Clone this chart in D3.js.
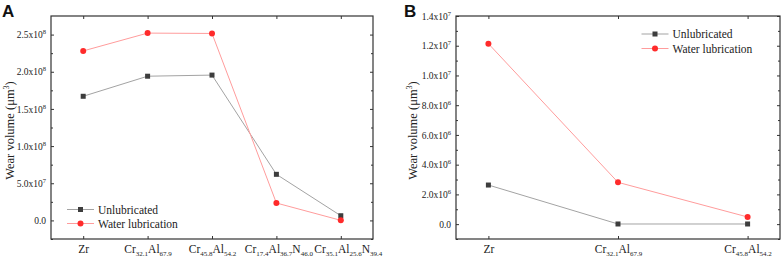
<!DOCTYPE html>
<html>
<head>
<meta charset="utf-8">
<script src="https://cdn.jsdelivr.net/npm/d3@7"></script>
<style>
  body { margin: 0; background: #fff; }
  svg { display: block; font-family: "Liberation Serif", "Times New Roman", serif; }
</style>
</head>
<body>
<div id="chart-area"></div>
<script>
// data
const catsA = ["Zr", "Cr32.1Al67.9", "Cr45.8Al54.2", "Cr17.4Al36.7N46.0", "Cr35.1Al25.6N39.4"]
const unlubA = [1.67e8, 1.94e8, 1.955e8, 6.2e7, 6.3e6]
const waterA = [2.28e8, 2.52e8, 2.515e8, 2.34e7, 1e5]
const ticksA = [0, 5e7, 1e8, 1.5e8, 2e8, 2.5e8]

const catsB = ["Zr", "Cr32.1Al67.9", "Cr45.8Al54.2"]
const unlubB = [2.63e6, 1e4, 1e4]
const waterB = [1.214e7, 2.81e6, 4.8e5]
const ticksB = [0, 2e6, 4e6, 6e6, 8e6, 1e7, 1.2e7, 1.4e7]

const seriesNames = ["Unlubricated", "Water lubrication"]
const LINE_COL = ["#a3a3a3", "#ff9c9c"]
const MARK_COL = ["#3d3d3d", "#ff2b2b"]

const svg = d3.select("#chart-area").append("svg")
  .attr("width", 782)
  .attr("height", 259)

// splits "Cr32.1Al67.9" into element + subscript pairs
function parts(name) {
  return Array.from(name.matchAll(/([A-Z][a-z]?)([\d.]*)/g)).map(m => [m[1], m[2]])
}

function sci(v) {
  if (v === 0) return ["0.0", null]
  const e = Math.floor(Math.log10(Math.abs(v)) + 1e-9)
  return [(v / Math.pow(10, e)).toFixed(1) + "x10", e]
}

function panel(opt) {
  const { left, right, top, bottom, xDomain, yDomain, cats, series, majors, minors, letter, letterX, labelX, legend, shift } = opt
  const g = svg.append("g")

  const x = d3.scaleLinear().domain(xDomain).range([left, right])
  const y = d3.scaleLinear().domain(yDomain).range([bottom, top])
  const idx = cats.map((d, i) => i)

  // left axis with labels
  const yl = g.append("g")
    .attr("transform", `translate(${left},0)`)
    .call(d3.axisLeft(y).tickValues(majors).tickSize(-3).tickPadding(5).tickFormat(""))
  yl.selectAll(".tick text").each(function(d) {
    const t = d3.select(this).attr("font-size", "9.5px").attr("fill", "#222")
      .attr("font-family", "Liberation Serif").attr("dy", "0.33em")
    const [base, ex] = sci(d)
    t.append("tspan").text(base)
    if (ex !== null) t.append("tspan").attr("font-size", "6.5px").attr("dy", "-4").text(ex)
  })
  g.append("g").attr("class", "bare").attr("transform", `translate(${left},0)`)
    .call(d3.axisLeft(y).tickValues(minors).tickSize(-2).tickFormat(""))
  g.append("g").attr("class", "bare").attr("transform", `translate(${right},0)`)
    .call(d3.axisRight(y).tickValues(majors).tickSize(-3).tickFormat(""))
  g.append("g").attr("class", "bare").attr("transform", `translate(${right},0)`)
    .call(d3.axisRight(y).tickValues(minors).tickSize(-2).tickFormat(""))

  // bottom + top axes on categories
  const xb = g.append("g")
    .attr("transform", `translate(0,${bottom})`)
    .call(d3.axisBottom(x).tickValues(idx).tickSize(-3).tickFormat(""))
  xb.selectAll(".tick text").each(function(i) {
    const t = d3.select(this).attr("font-size", "11.5px").attr("fill", "#222")
      .attr("font-family", "Liberation Serif").attr("y", 14).attr("dy", 0)
      .attr("x", shift[i] || 0)
    let back = 0
    parts(cats[i]).forEach(([el, sub]) => {
      t.append("tspan").attr("dy", back).text(el)
      back = 0
      if (sub) {
        t.append("tspan").attr("font-size", "7px").attr("dy", 3).text(sub)
        back = -3
      }
    })
  })
  g.append("g").attr("class", "bare").attr("transform", `translate(0,${top})`)
    .call(d3.axisTop(x).tickValues(idx).tickSize(-3).tickFormat(""))

  g.selectAll(".bare .tick text").remove()
  g.selectAll(".domain").remove()
  g.selectAll(".tick line").attr("stroke", "#333").attr("stroke-width", 1)

  g.append("rect")
    .attr("x", left).attr("y", top)
    .attr("width", right - left).attr("height", bottom - top)
    .attr("fill", "none").attr("stroke", "#333").attr("stroke-width", 1.2)

  // series
  series.forEach((vals, s) => {
    const line = d3.line().x((d, i) => x(i)).y(d => y(d))
    g.append("path").datum(vals)
      .attr("d", line).attr("fill", "none")
      .attr("stroke", LINE_COL[s]).attr("stroke-width", 1)
  })
  series.forEach((vals, s) => {
    if (s === 0) {
      g.selectAll(null).data(vals).enter().append("rect")
        .attr("x", (d, i) => x(i) - 2.5).attr("y", d => y(d) - 2.5)
        .attr("width", 5).attr("height", 5).attr("fill", MARK_COL[0])
    } else {
      g.selectAll(null).data(vals).enter().append("circle")
        .attr("cx", (d, i) => x(i)).attr("cy", d => y(d)).attr("r", 3)
        .attr("fill", MARK_COL[1])
    }
  })

  // legend
  seriesNames.forEach((name, s) => {
    const ly = legend.y + s * legend.dy
    g.append("line")
      .attr("x1", legend.x).attr("x2", legend.x + 27)
      .attr("y1", ly).attr("y2", ly)
      .attr("stroke", LINE_COL[s]).attr("stroke-width", 1)
    if (s === 0) {
      g.append("rect").attr("x", legend.x + 13.5 - 2.5).attr("y", ly - 2.5)
        .attr("width", 5).attr("height", 5).attr("fill", MARK_COL[0])
    } else {
      g.append("circle").attr("cx", legend.x + 13.5).attr("cy", ly).attr("r", 3)
        .attr("fill", MARK_COL[1])
    }
    g.append("text")
      .attr("x", legend.x + 31).attr("y", ly).attr("dy", "0.35em")
      .attr("font-size", "11.5px").attr("fill", "#222")
      .text(name)
  })

  // y label
  const yt = g.append("text")
    .attr("transform", `translate(${labelX},${(top + bottom) / 2 + 3}) rotate(-90)`)
    .attr("text-anchor", "middle")
    .attr("font-size", "12.5px").attr("fill", "#222")
  yt.append("tspan").text("Wear volume (μm")
  yt.append("tspan").attr("font-size", "8px").attr("dy", -5).text("3")
  yt.append("tspan").attr("dy", 5).text(")")

  // panel letter
  g.append("text")
    .attr("x", letterX).attr("y", 17)
    .attr("font-family", "Liberation Sans, Arial, sans-serif")
    .attr("font-weight", "bold").attr("font-size", "17px").attr("fill", "#111")
    .text(letter)
}

panel({
  left: 51, right: 373, top: 16, bottom: 239,
  xDomain: [-0.5, 4.5], yDomain: [-2.5e7, 2.75e8],
  cats: catsA, series: [unlubA, waterA],
  majors: ticksA, minors: d3.range(-2.5e7, 2.7e8, 5e7),
  letter: "A", letterX: 2, labelX: 14,
  legend: { x: 67, y: 209.5, dy: 14 },
  shift: [0, 0, 0, 2, 7]
})

panel({
  left: 456, right: 780, top: 16, bottom: 239,
  xDomain: [-0.25, 2.25], yDomain: [-1e6, 1.4e7],
  cats: catsB, series: [unlubB, waterB],
  majors: ticksB, minors: d3.range(-1e6, 1.35e7, 2e6),
  letter: "B", letterX: 404, labelX: 417,
  legend: { x: 641.5, y: 34, dy: 14.5 },
  shift: [0, 0, 0]
})
</script>
</body>
</html>
